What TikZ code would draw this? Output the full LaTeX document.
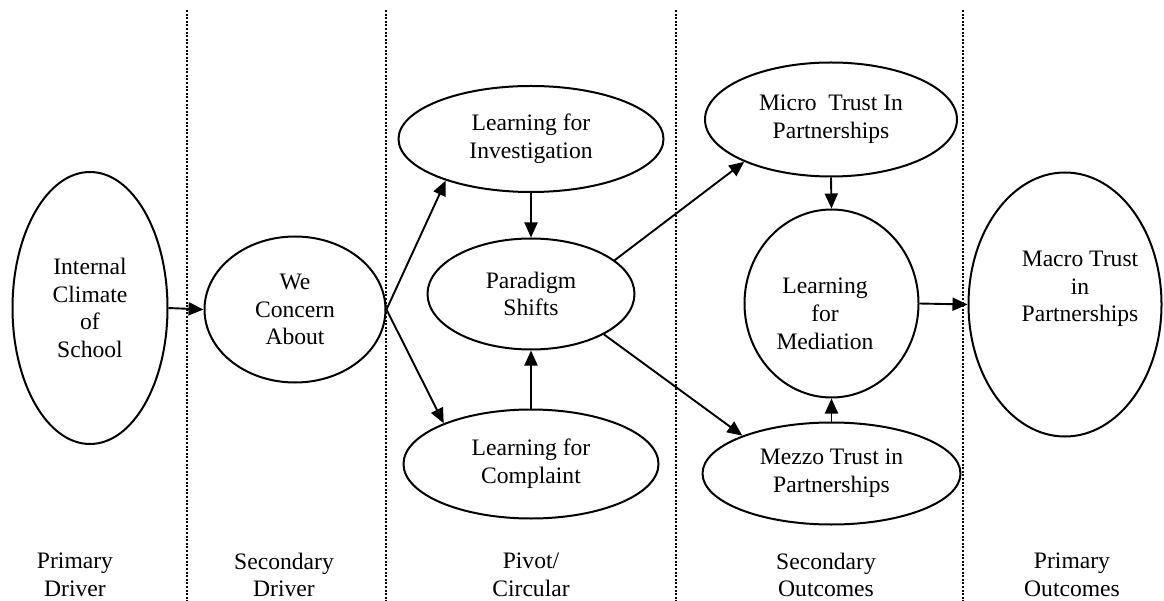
\documentclass[tikz,border=0pt]{standalone}
\usepackage{fontspec}
\setmainfont{Liberation Serif}
\usetikzlibrary{arrows.meta,shapes.geometric}
\begin{document}
\begin{tikzpicture}[x=1pt,y=-1pt,
  oval/.style={draw, ellipse, line width=2pt, inner sep=0pt, align=center,
    font=\fontsize{23.6}{27.7}\selectfont},
  lab/.style={align=center, inner sep=0pt, font=\fontsize{23.6}{27.7}\selectfont},
  arr/.style={line width=1.9pt, -{Triangle[length=15pt,width=13pt]}},
  divider/.style={line width=2.2pt, dash pattern=on 2pt off 1.6pt}]
\useasboundingbox (0,0) rectangle (1164,601);

% column dividers
\foreach \xx in {187,386,676,963}
  \draw[divider] (\xx,10) -- (\xx,601);

% ellipses
\node[oval, minimum width=155pt, minimum height=272pt] (int) at (90,308) {Internal\\Climate\\of\\School};
\node[oval, minimum width=181pt, minimum height=146pt] (we) at (295,309.5) {We\\Concern\\About};
\node[oval, minimum width=265pt, minimum height=106pt] (inv) at (531,139) {Learning for\\Investigation};
\node[oval, minimum width=207pt, minimum height=111pt] (par) at (531,294) {Paradigm\\Shifts};
\node[oval, minimum width=255pt, minimum height=109pt] (com) at (531,464) {Learning for\\Complaint};
\node[oval, minimum width=252pt, minimum height=114pt] (mic) at (831,119.5) {Micro\ \ Trust In\\Partnerships};
\node[oval, minimum width=174pt, minimum height=188pt,
  label={[lab, name=medtext, xshift=-6.5pt, yshift=-10.5pt]center:{Learning\\for\\Mediation}}] (med) at (831.5,303.5) {};
\node[oval, minimum width=258pt, minimum height=102pt] (mez) at (831.5,473.5) {Mezzo Trust in\\Partnerships};
\node[oval, minimum width=193pt, minimum height=264pt,
  label={[lab, name=mactext, xshift=15pt, yshift=15.5pt]center:{Macro Trust\\in\\Partnerships}}] (mac) at (1065,304.5) {};

% connectors
\draw[arr] (int.east) -- (we.west);
\draw[arr] (we.east) -- (inv.206);
\draw[arr] (we.east) -- (com.155);
\draw[arr] (inv.south) -- (par.north);
\draw[arr] (com.north) -- (par.south);
\draw[arr] (par.22) -- (mic.206);
\draw[arr] (par.331) -- (mez.157);
\draw[arr] (mic.south) -- (med.north);
\draw[arr] (mez.north) -- (med.south);
\draw[arr] (med.east) -- (mac.west);

% column labels
\node[lab] (l1) at (75,575) {Primary\\Driver};
\node[lab] (l2) at (284,575) {Secondary\\Driver};
\node[lab] (l3) at (531,575) {Pivot/\\Circular};
\node[lab] (l4) at (826,575) {Secondary\\Outcomes};
\node[lab] (l5) at (1072,575) {Primary\\Outcomes};
\end{tikzpicture}
\end{document}
